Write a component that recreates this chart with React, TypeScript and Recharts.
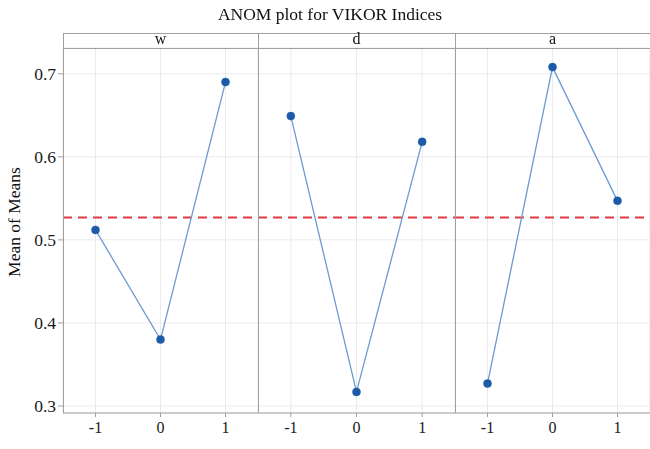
import { LineChart, Line, XAxis, YAxis, CartesianGrid, ReferenceLine } from 'recharts';

const levels = [-1, 0, 1];
const factors = ['w', 'd', 'a'];
const wMeans = [0.512, 0.380, 0.690];
const dMeans = [0.649, 0.317, 0.618];
const aMeans = [0.327, 0.708, 0.547];
const grandMean = 0.527;
const yTicks = [0.3, 0.4, 0.5, 0.6, 0.7];

const FONT = '"Liberation Serif", "Times New Roman", serif';
const TOP = 48;
const BOTTOM = 413;
const H = 449;
const Y_DOMAIN: [number, number] = [0.2916, 0.731];

// panel left edges / widths in px
const panels = [
  { left: 0, width: 258, means: wMeans, withY: true },
  { left: 258, width: 197, means: dMeans, withY: false },
  { left: 455, width: 195, means: aMeans, withY: false }
];

function Panel({ means, width, withY }: { means: number[]; width: number; withY: boolean }) {
  const data = levels.map((lv, i) => ({ level: lv, mean: means[i] }));
  return (
    <LineChart
      width={width}
      height={H}
      data={data}
      margin={{ top: TOP, bottom: 0, left: 0, right: 0 }}
    >
      <CartesianGrid stroke="#ebebeb" strokeWidth={1} />
      <XAxis
        dataKey="level"
        type="number"
        domain={[-1.5, 1.5]}
        ticks={levels}
        tickFormatter={(v: number) => String(v)}
        axisLine={{ stroke: '#a0a0a0' }}
        tickLine={{ stroke: '#a0a0a0' }}
        tickSize={4}
        tickMargin={5}
        height={H - BOTTOM}
        tick={{ fontSize: 16, fill: '#1a1a1a', fontFamily: FONT }}
        allowDataOverflow
      />
      <YAxis
        type="number"
        domain={Y_DOMAIN}
        ticks={yTicks}
        allowDataOverflow
        hide={!withY}
        width={63}
        tickFormatter={(v: number) => v.toFixed(1)}
        axisLine={false}
        tickLine={{ stroke: '#a0a0a0' }}
        tickSize={5}
        tickMargin={2}
        tick={{ fontSize: 17.5, fill: '#1a1a1a', fontFamily: FONT }}
      />
      <ReferenceLine y={grandMean} stroke="#e03a3e" strokeWidth={2} strokeDasharray="9 6" />
      <Line
        dataKey="mean"
        stroke="#6d9bcf"
        strokeWidth={1.3}
        dot={{ r: 4, fill: '#1b5ba8', stroke: '#1b5ba8', strokeWidth: 0.5 }}
        isAnimationActive={false}
      />
    </LineChart>
  );
}

export default function App() {
  const line = '#a0a0a0';
  return (
    <div style={{ position: 'fixed', top: 0, left: 0, width: 650, height: H, background: '#fff', fontFamily: FONT }}>
      {panels.map((p, i) => (
        <div key={i} style={{ position: 'absolute', left: p.left, top: 0 }}>
          <Panel means={p.means} width={p.width} withY={p.withY} />
        </div>
      ))}
      <div style={{ position: 'absolute', left: 0, top: 4, width: 660, textAlign: 'center', fontSize: 17.5, color: '#111' }}>
        ANOM plot for VIKOR Indices
      </div>
      <div
        style={{
          position: 'absolute',
          left: 14,
          top: 222,
          transform: 'translate(-50%, -50%) rotate(-90deg)',
          whiteSpace: 'nowrap',
          fontSize: 17.5,
          color: '#111'
        }}
      >
        Mean of Means
      </div>
      {/* strip header */}
      <div style={{ position: 'absolute', left: 63, top: 33, width: 587, height: 0, borderTop: `1px solid ${line}` }} />
      <div style={{ position: 'absolute', left: 63, top: 48, width: 587, height: 0, borderTop: `1px solid ${line}` }} />
      {[63, 258, 455].map((x) => (
        <div key={x} style={{ position: 'absolute', left: x, top: 33, width: 0, height: BOTTOM - 33, borderLeft: `1px solid ${line}` }} />
      ))}
      {factors.map((f, i) => {
        const l = i === 0 ? 63 : panels[i].left;
        const w = i === 0 ? 195 : panels[i].width;
        return (
          <div key={f} style={{ position: 'absolute', left: l, top: 30, width: w, textAlign: 'center', fontSize: 16, color: '#111' }}>
            {f}
          </div>
        );
      })}
    </div>
  );
}
